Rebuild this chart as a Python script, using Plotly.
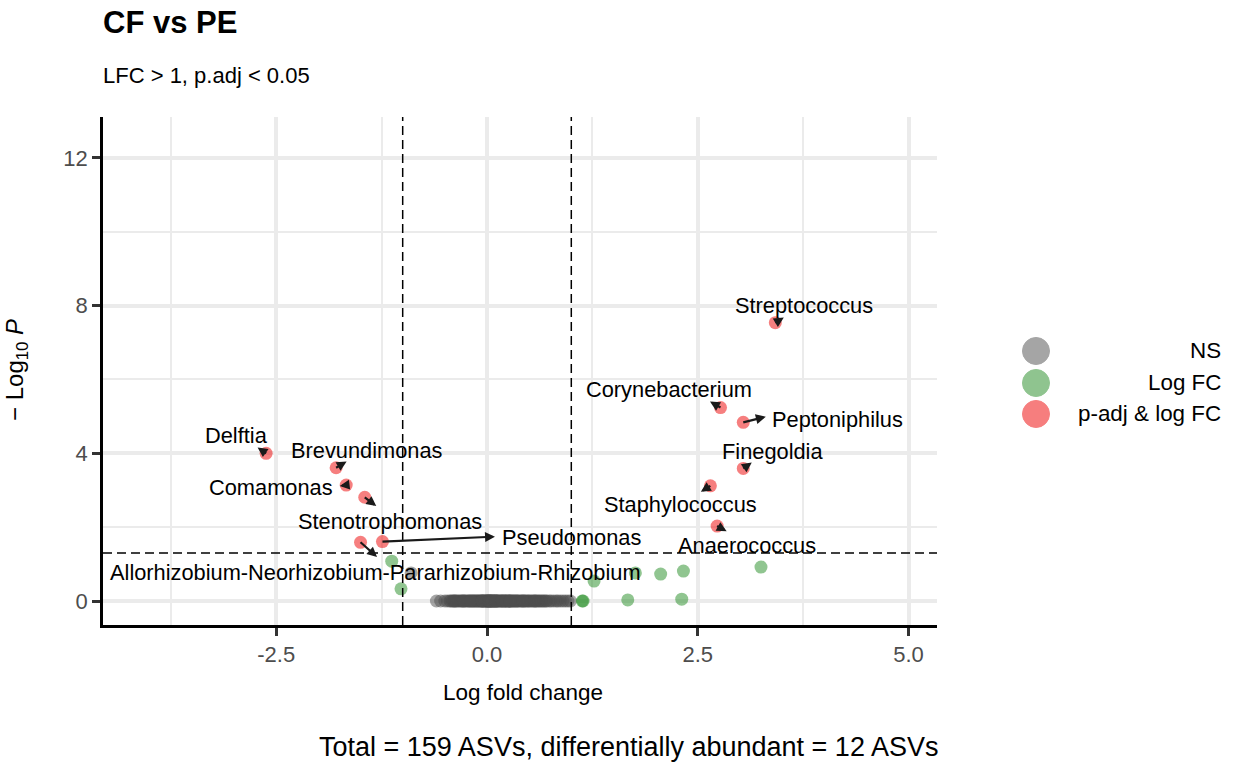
import plotly.graph_objects as go

# ---- data -------------------------------------------------------------
# significant ASVs (p-adj < 0.05 and |LFC| > 1)
sig_genus = [
    "Streptococcus", "Corynebacterium", "Peptoniphilus", "Finegoldia",
    "Staphylococcus", "Anaerococcus", "Delftia", "Brevundimonas",
    "Comamonas", "Stenotrophomonas", "Pseudomonas",
    "Allorhizobium-Neorhizobium-Pararhizobium-Rhizobium",
]
sig_lfc = [3.42, 2.77, 3.04, 3.04, 2.65, 2.73, -2.62, -1.79, -1.67, -1.45, -1.24, -1.50]
sig_mlog10p = [7.54, 5.24, 4.84, 3.59, 3.12, 2.03, 4.00, 3.61, 3.14, 2.81, 1.61, 1.59]

# |LFC| > 1 but not significant
fc_lfc = [-1.13, -1.02, 1.13, 1.14, 1.27, 1.67, 1.76, 2.06, 2.31, 2.33, 3.25]
fc_mlog10p = [1.08, 0.33, 0.0, 0.0, 0.54, 0.03, 0.76, 0.73, 0.05, 0.81, 0.92]

# not significant
ns_lfc = [
    -0.90,
    -0.60, -0.55, -0.50, -0.47,
    -0.44, -0.43, -0.41, -0.40, -0.38, -0.37, -0.36, -0.34, -0.33, -0.31,
    -0.30, -0.29, -0.27, -0.26, -0.25, -0.23, -0.22, -0.21, -0.20, -0.18,
    -0.17, -0.16, -0.15, -0.14, -0.13, -0.12, -0.11, -0.10, -0.09, -0.08,
    -0.07, -0.06, -0.05, -0.05, -0.04, -0.03, -0.02, -0.02, -0.01, 0.00,
    0.00, 0.01, 0.01, 0.02, 0.03, 0.03, 0.04, 0.05, 0.05, 0.06,
    0.07, 0.08, 0.08, 0.09, 0.10, 0.11, 0.12, 0.12, 0.13, 0.14,
    0.15, 0.16, 0.17, 0.18, 0.19, 0.20, 0.21, 0.22, 0.23, 0.24,
    0.25, 0.26, 0.27, 0.28, 0.29, 0.30, 0.31, 0.32, 0.33, 0.35,
    0.36, 0.37, 0.38, 0.40, 0.41, 0.42, 0.44, 0.45, 0.46, 0.48,
    0.49, 0.50, 0.52, 0.53, 0.55, 0.56, 0.58, 0.59, 0.61, 0.62,
    0.64, 0.65, 0.67, 0.68, 0.70, 0.71,
    -0.39, -0.28, -0.19, -0.06, 0.02, 0.04, 0.06, 0.09, 0.11, 0.18,
    0.22, 0.27, 0.34, 0.43, 0.57,
    0.74, 0.76, 0.79, 0.82, 0.84, 0.87, 0.90, 0.93, 0.96, 0.99,
]
ns_mlog10p = [0.76] + [0.0] * (len(ns_lfc) - 1)

x_tickvals = [-2.5, 0.0, 2.5, 5.0]
x_ticktext = ["-2.5", "0.0", "2.5", "5.0"]
y_tickvals = [0, 4, 8, 12]
y_ticktext = ["0", "4", "8", "12"]

lfc_cutoff = 1.0
p_cutoff_mlog10 = 1.30103  # -log10(0.05)

n_total = len(sig_lfc) + len(fc_lfc) + len(ns_lfc)
n_sig = len(sig_lfc)

# ---- styling -----------------------------------------------------------
FONT = "Liberation Sans, Arial, Helvetica, sans-serif"
COL_NS = "#4D4D4D"
COL_FC = "#228B22"
COL_SIG = "#EE0000"
GRID = "#EBEBEB"

# label text offset (px, right/down) and connector end offset (px, right/down)
label_layout = {
    "Streptococcus": ((29, -17), (10, -6)),
    "Corynebacterium": ((-52, -18), (-12, -7)),
    "Peptoniphilus": ((94, -3), (24, -6)),
    "Finegoldia": ((29, -17), (10, -7)),
    "Staphylococcus": ((-30, 19), (-11, 7)),
    "Anaerococcus": ((30, 19), (11, 6)),
    "Delftia": ((-30, -18), (-10, -7)),
    "Brevundimonas": ((31, -17), (12, -7)),
    "Comamonas": ((-75, 2), (-8, 1)),
    "Stenotrophomonas": ((25, 24), (13, 10)),
    "Pseudomonas": ((189, -4), (114, -5)),
    "Allorhizobium-Neorhizobium-Pararhizobium-Rhizobium": ((15, 30), (18, 16)),
}

fig = go.Figure()

def pts(x, y, color, name):
    fig.add_trace(go.Scatter(
        x=x, y=y, mode="markers", name=name, showlegend=False,
        marker=dict(size=13, color=color, opacity=0.5, line=dict(width=0)),
        hoverinfo="x+y",
    ))

pts(ns_lfc, ns_mlog10p, COL_NS, "NS")
pts(fc_lfc, fc_mlog10p, COL_FC, "Log FC")
pts(sig_lfc, sig_mlog10p, COL_SIG, "p-adj & log FC")

# cutoff lines
dash = dict(color="black", width=1.5, dash="9px,5px")
for xv in (-lfc_cutoff, lfc_cutoff):
    fig.add_shape(type="line", xref="x", yref="paper", x0=xv, x1=xv, y0=0, y1=1, line=dash)
fig.add_shape(type="line", xref="paper", yref="y", x0=0, x1=1,
              y0=p_cutoff_mlog10, y1=p_cutoff_mlog10, line=dash)

# connectors and labels
for g, x, y in zip(sig_genus, sig_lfc, sig_mlog10p):
    (tx, ty), (ax, ay) = label_layout[g]
    fig.add_annotation(
        x=x, y=y, xref="x", yref="y", text="", showarrow=True,
        ax=ax, ay=ay, arrowside="start", startarrowhead=2, startarrowsize=0.9,
        arrowwidth=2.2, arrowcolor="#1a1a1a",
    )
    fig.add_annotation(
        x=x, y=y, xref="x", yref="y", text=g, showarrow=False,
        xshift=tx, yshift=-ty, xanchor="center", yanchor="middle",
        font=dict(family=FONT, size=21.8, color="black"),
    )

# legend (right aligned text, circles on the left)
legend_items = [("NS", COL_NS), ("Log FC", COL_FC), ("p-adj & log FC", COL_SIG)]
legend_y = [0.5394, 0.4764, 0.4154]
for (lab, col), ly in zip(legend_items, legend_y):
    fig.add_shape(
        type="circle", xref="paper", yref="paper", xsizemode="pixel", ysizemode="pixel",
        xanchor=1.1187, yanchor=ly, x0=-13.5, x1=13.5, y0=-13.5, y1=13.5,
        fillcolor=col, opacity=0.5, line=dict(color=col, width=1),
    )
    fig.add_annotation(
        xref="paper", yref="paper", x=1.3429, y=ly, text=lab, showarrow=False,
        xanchor="right", yanchor="middle", font=dict(family=FONT, size=22.4, color="black"),
    )

# titles
fig.add_annotation(xref="paper", yref="paper", x=-0.0024, y=1.187, text="<b>CF vs PE</b>",
                   showarrow=False, xanchor="left", yanchor="middle",
                   font=dict(family=FONT, size=31, color="black"))
fig.add_annotation(xref="paper", yref="paper", x=-0.0024, y=1.081, text="LFC > 1, p.adj < 0.05",
                   showarrow=False, xanchor="left", yanchor="middle",
                   font=dict(family=FONT, size=22, color="black"))
fig.add_annotation(xref="paper", yref="paper", x=1.0036, y=-0.240,
                   text=f"Total = {n_total} ASVs, differentially abundant = {n_sig} ASVs",
                   showarrow=False, xanchor="right", yanchor="middle",
                   font=dict(family=FONT, size=27, color="black"))
fig.add_annotation(xref="paper", yref="paper", x=0.5036, y=-0.1319, text="Log fold change",
                   showarrow=False, xanchor="center", yanchor="middle",
                   font=dict(family=FONT, size=22.5, color="black"))
fig.add_annotation(xref="paper", yref="paper", x=-0.1031, y=0.502,
                   text="\u2212 Log<sub>10</sub> <i>P</i>", textangle=-90,
                   showarrow=False, xanchor="center", yanchor="middle",
                   font=dict(family=FONT, size=24, color="black"))

axis_common = dict(
    showline=True, linecolor="black", linewidth=2.5,
    ticks="outside", ticklen=8, tickwidth=2.5, tickcolor="#333333",
    showgrid=True, gridcolor=GRID, gridwidth=3.5, zeroline=False,
    tickfont=dict(family=FONT, size=22, color="#4D4D4D"),
)
fig.update_layout(
    width=1233, height=766, autosize=False,
    margin=dict(l=103, r=296, t=117, b=141),
    paper_bgcolor="white", plot_bgcolor="white",
    showlegend=False,
    xaxis=dict(
        range=[-4.555, 5.338], tickmode="array", tickvals=x_tickvals, ticktext=x_ticktext,
        minor=dict(tickmode="array", tickvals=[-3.75, -1.25, 1.25, 3.75],
                   showgrid=True, gridcolor=GRID, gridwidth=2, ticks=""),
        **axis_common,
    ),
    yaxis=dict(
        range=[-0.65, 13.11], tickmode="array", tickvals=y_tickvals, ticktext=y_ticktext,
        minor=dict(tickmode="array", tickvals=[2, 6, 10],
                   showgrid=True, gridcolor=GRID, gridwidth=2, ticks=""),
        **axis_common,
    ),
)

fig.write_html("out.html")
